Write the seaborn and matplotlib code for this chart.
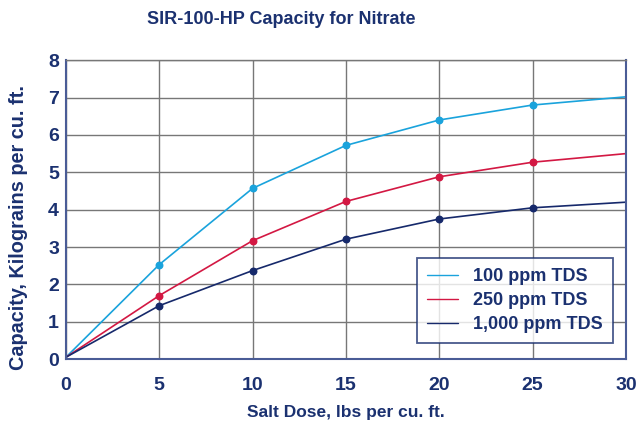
import numpy as np
import pandas as pd
import matplotlib
matplotlib.use("Agg")
import matplotlib.pyplot as plt
import seaborn as sns

# salt dose (lbs per cu. ft.) and capacity (kilograins per cu. ft.)
salt_dose = [0, 5, 10, 15, 20, 25, 30]
cap_100 = [0.05, 2.53, 4.57, 5.72, 6.40, 6.80, 7.02]
cap_250 = [0.05, 1.70, 3.17, 4.22, 4.88, 5.27, 5.50]
cap_1000 = [0.05, 1.43, 2.37, 3.21, 3.75, 4.05, 4.20]
series_names = ["100 ppm TDS", "250 ppm TDS", "1,000 ppm TDS"]
colors = ["#1aa3dc", "#d31843", "#16296b"]

navy = "#1b3170"

df = pd.DataFrame({
    "dose": salt_dose * 3,
    "cap": cap_100 + cap_250 + cap_1000,
    "series": [n for n in series_names for _ in salt_dose],
})

sns.set_style("white")
plt.rcParams["font.family"] = ["Liberation Sans", "DejaVu Sans"]

fig = plt.figure(figsize=(6.4, 4.21), dpi=100)
ax = fig.add_axes([0.103, 0.147, 0.875, 0.71])

sns.lineplot(data=df, x="dose", y="cap", hue="series", palette=colors,
             hue_order=series_names, linewidth=1.2, ax=ax)

# markers at the measured doses only (not at 0 and 30)
for name, vals, c in zip(series_names, [cap_100, cap_250, cap_1000], colors):
    ax.scatter(salt_dose[1:-1], vals[1:-1], s=22, color=c, zorder=4)

ax.set_xlim(0, 30)
ax.set_ylim(0, 8)
ax.set_xticks(range(0, 31, 5))
ax.set_yticks(range(0, 9))
ax.grid(True, color="#777777", linewidth=1.0)
ax.set_axisbelow(True)

for s in ["left", "right", "bottom"]:
    ax.spines[s].set_color("#4a5c96")
    ax.spines[s].set_linewidth(1.5)
ax.spines["top"].set_color("#777777")
ax.spines["top"].set_linewidth(1.0)

ax.tick_params(axis="x", length=0, labelsize=14, labelcolor=navy, pad=13)
ax.tick_params(axis="y", length=0, labelsize=14, labelcolor=navy, pad=5)
for lab in ax.get_xticklabels() + ax.get_yticklabels():
    lab.set_fontweight("bold")

ax.set_xlabel("Salt Dose, lbs per cu. ft.", fontsize=12.5, fontweight="bold",
              color=navy, labelpad=8)
ax.set_ylabel("Capacity, Kilograins per cu. ft.", fontsize=14.3, fontweight="bold",
              color=navy)
ax.yaxis.set_label_coords(-0.068, 0.44)
fig.suptitle("SIR-100-HP Capacity for Nitrate", x=0.44, y=0.975, fontsize=13,
             fontweight="bold", color=navy)

leg = ax.legend(loc="lower right", bbox_to_anchor=(0.977, 0.054), fancybox=False,
                frameon=True, fontsize=13, handlelength=1.7, borderpad=0.55,
                labelspacing=0.38, handletextpad=0.85, borderaxespad=0,
                handleheight=0.7)
leg.get_frame().set_edgecolor(navy)
leg.get_frame().set_linewidth(1.3)
for t in leg.get_texts():
    t.set_color(navy)
    t.set_fontweight("bold")
for h in leg.get_lines():
    h.set_linewidth(1.0)

fig.savefig("out.png", dpi=100)
